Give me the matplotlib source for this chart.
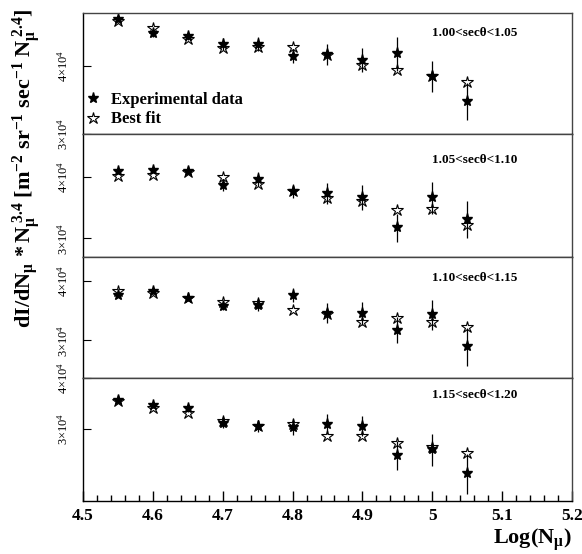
import numpy as np
import matplotlib
matplotlib.use("Agg")
import matplotlib.pyplot as plt
from matplotlib.ticker import MultipleLocator, NullLocator

plt.rcParams["font.family"] = ["Liberation Serif", "DejaVu Serif"]
plt.rcParams["mathtext.fontset"] = "custom"
plt.rcParams["mathtext.rm"] = "Liberation Serif"
plt.rcParams["mathtext.it"] = "Liberation Serif:italic"
plt.rcParams["mathtext.bf"] = "Liberation Serif:bold"

# Log(N_mu) bins
log_nmu = [4.55, 4.60, 4.65, 4.70, 4.75, 4.80, 4.85, 4.90, 4.95, 5.00, 5.05]

# sec(theta) bins
bin_labels = [
    "1.00<secθ<1.05",
    "1.05<secθ<1.10",
    "1.10<secθ<1.15",
    "1.15<secθ<1.20",
]

# experimental data, units of 1e4
exp_1 = [4.87, 4.59, 4.54, 4.39, 4.39, 4.17, 4.20, 4.10, 4.22, 3.83, 3.45]
exp_2 = [4.12, 4.14, 4.12, 3.86, 3.97, 3.75, 3.71, 3.64, 3.16, 3.64, 3.29]
exp_3 = [3.74, 3.82, 3.69, 3.55, 3.56, 3.74, 3.43, 3.43, 3.16, 3.41, 2.92]
exp_4 = [3.53, 3.44, 3.38, 3.10, 3.05, 3.04, 3.09, 3.05, 2.59, 2.68, 2.34]

err_1 = [0.06, 0.08, 0.08, 0.11, 0.13, 0.125, 0.18, 0.21, 0.30, 0.25, 0.27]
err_2 = [0.06, 0.06, 0.06, 0.11, 0.13, 0.12, 0.18, 0.21, 0.21, 0.28, 0.29]
err_3 = [0.04, 0.06, 0.05, 0.07, 0.09, 0.13, 0.17, 0.19, 0.20, 0.25, 0.27]
err_4 = [0.06, 0.06, 0.08, 0.09, 0.10, 0.14, 0.18, 0.17, 0.21, 0.24, 0.26]

# best fit, units of 1e4
fit_1 = [4.83, 4.69, 4.48, 4.31, 4.33, 4.33, 4.19, 4.01, 3.93, 3.83, 3.74]
fit_2 = [4.02, 4.04, 4.10, 4.00, 3.87, 3.75, 3.63, 3.58, 3.43, 3.44, 3.19]
fit_3 = [3.82, 3.78, 3.69, 3.62, 3.60, 3.48, 3.41, 3.28, 3.35, 3.28, 3.20]
fit_4 = [3.51, 3.38, 3.28, 3.14, 3.05, 3.09, 2.89, 2.89, 2.77, 2.71, 2.62]

# y range of each pad
y_ranges = [(3.0e4, 5.0e4), (2.75e4, 4.9e4), (2.5e4, 4.5e4), (2.0e4, 4.0e4)]

exps = [exp_1, exp_2, exp_3, exp_4]
errs = [err_1, err_2, err_3, err_4]
fits = [fit_1, fit_2, fit_3, fit_4]
label_y = [0.835, 0.79, 0.83, 0.86]

fig, axes = plt.subplots(
    4, 1, sharex=True, figsize=(5.82, 5.54), dpi=100,
    gridspec_kw={"hspace": 0, "height_ratios": [121, 123, 121, 123]},
)
fig.subplots_adjust(left=0.1426, right=0.9828, bottom=0.0957, top=0.9765)

x = np.array(log_nmu)
for i, ax in enumerate(axes):
    e = np.array(exps[i]) * 1e4
    f = np.array(fits[i]) * 1e4
    de = np.array(errs[i]) * 1e4

    ax.errorbar(x, e, yerr=de, fmt="none", ecolor="black", elinewidth=0.9)
    ax.plot(x, f, ls="none", marker="*", ms=9, mfc="none", mec="black",
            mew=0.8, label="Best fit")
    ax.plot(x, e, ls="none", marker="*", ms=8, color="black",
            label="Experimental data")

    ax.set_yscale("log")
    ax.set_ylim(*y_ranges[i])
    ax.yaxis.set_minor_locator(NullLocator())
    ax.set_yticks([3e4, 4e4])
    ax.set_yticklabels([r"$3{\times}10^{4}$", r"$4{\times}10^{4}$"],
                       rotation=90, va="center", fontsize=9)
    ax.tick_params(axis="y", direction="in", length=6, width=0.8, pad=9)

    for side in ["top", "right"]:
        ax.spines[side].set_color("#444444")
    for side in ax.spines:
        ax.spines[side].set_linewidth(1.0)

    ax.text(0.714, label_y[i], bin_labels[i], transform=ax.transAxes,
            fontsize=9.5, fontweight="bold", va="center", ha="left")

    if i < 3:
        ax.tick_params(axis="x", which="both", bottom=False, labelbottom=False)

ax = axes[-1]
ax.set_xlim(4.5, 5.2)
ax.xaxis.set_major_locator(MultipleLocator(0.1))
ax.xaxis.set_minor_locator(MultipleLocator(0.02))
ax.set_xticks([4.5, 4.6, 4.7, 4.8, 4.9, 5.0, 5.1, 5.2])
ax.set_xticklabels(["4.5", "4.6", "4.7", "4.8", "4.9", "5", "5.1", "5.2"],
                   fontsize=12.5, fontweight="bold")
ax.tick_params(axis="x", which="major", direction="in", length=7, width=1, pad=5)
ax.tick_params(axis="x", which="minor", direction="in", length=4, width=1)
ax.set_xlabel(r"$\mathbf{Log(N_{\mu})}$", fontsize=16, loc="right", labelpad=2)

# legend in top pad
handles, labels = axes[0].get_legend_handles_labels()
axes[0].legend(handles[::-1], labels[::-1], loc="lower left",
               bbox_to_anchor=(-0.028, -0.07), frameon=False, handlelength=1.0,
               handletextpad=0.6, labelspacing=0.2,
               prop={"family": "Liberation Serif", "weight": "bold", "size": 12})

fig.text(0.045, 0.985,
         r"$\mathbf{dI/dN_{\mu}\,*N_{\mu}^{\ 3.4}\ [m^{-2}\ sr^{-1}\ sec^{-1}\ N_{\mu}^{\ 2.4}]}$",
         rotation=90, fontsize=16, ha="center", va="top")

fig.savefig("out.png", dpi=100)
